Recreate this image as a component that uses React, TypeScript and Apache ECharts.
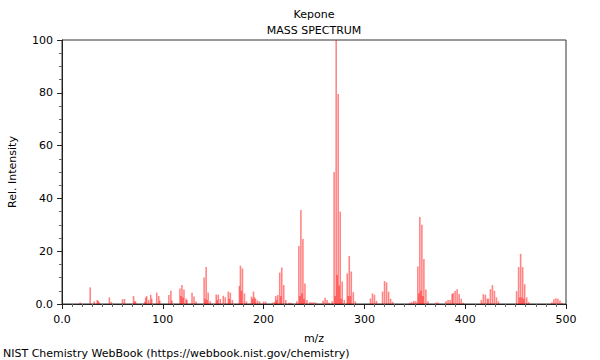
import React, { useEffect, useRef } from "react";
import * as echarts from "echarts";

const title = "Kepone";
const subtitle = "MASS SPECTRUM";
const xName = "m/z";
const yName = "Rel. Intensity";
const footer = "NIST Chemistry WebBook (https://webbook.nist.gov/chemistry)";

const xTicks = [0, 100, 200, 300, 400, 500];
const yTicks = [0, 20, 40, 60, 80, 100];

// low-mass peaks (m/z, rel. intensity)
const lowMz = [18, 28, 32, 35, 36, 37, 47, 49, 60, 62, 71, 72, 73, 82, 83, 84, 86, 88, 89, 94, 96, 97, 106, 108, 109, 117, 118, 119, 120, 121, 123, 124, 129, 131, 133];
const lowInt = [0.6, 6.3, 1, 1.5, 1.2, 0.6, 2.5, 0.8, 1.8, 1.9, 3, 1, 1, 0.8, 2.5, 3, 1.5, 3.5, 2, 4.3, 3, 1.3, 3.4, 5, 1.3, 5.9, 3, 7.2, 2.5, 5.5, 2.1, 1.5, 4.3, 2.8, 0.9];

// mid-mass peaks
const midMz = [141, 142, 143, 144, 145, 147, 153, 154, 155, 157, 160, 162, 165, 166, 167, 169, 176, 177, 178, 179, 181, 183, 188, 189, 190, 191, 192, 194, 196, 200, 202, 209, 211, 212, 213, 214, 216, 217, 218, 220, 222, 225, 227, 233, 235, 236, 237, 238, 239, 240, 241, 243, 246, 248, 250, 252, 259, 261, 263, 265, 268];
const midInt = [10, 2, 14, 1.5, 4.4, 1, 3.6, 1.5, 3.5, 1.9, 3.1, 2.5, 4.7, 2, 4.3, 1.5, 6.8, 14.5, 5, 13.5, 4, 1, 2.8, 2, 4.7, 2.5, 2, 1.3, 1, 0.9, 0.9, 0.5, 0.8, 3, 1.5, 3.4, 11.9, 3, 13.8, 7.2, 1.5, 0.5, 0.5, 1, 22, 3, 35.6, 4, 24.6, 2, 7.8, 1.5, 0.7, 0.7, 0.7, 0.5, 1.2, 2.4, 1.5, 0.5, 1];

// high-mass peaks
const highMz = [270, 271, 272, 273, 274, 275, 276, 277, 278, 280, 283, 284, 285, 286, 287, 289, 291, 306, 308, 310, 312, 318, 320, 322, 324, 326, 328, 345, 347, 349, 351, 353, 354, 355, 356, 357, 358, 359, 361, 363, 371, 373, 381, 383, 385, 387, 388, 390, 392, 394, 396, 398, 416, 418, 420, 422, 423, 425, 427, 429, 431, 433, 451, 453, 454, 455, 456, 457, 458, 459, 461, 463, 486, 488, 490, 492, 494, 496];
const highInt = [50, 3, 100, 11, 79.5, 7, 35, 2, 8.5, 1.5, 11.6, 3, 18.2, 3, 12.3, 4.5, 1, 2.1, 4, 3.5, 1.2, 4.7, 8.7, 8.2, 4.7, 2, 0.8, 0.5, 0.7, 1.2, 1, 14.2, 4, 33, 5, 30, 3, 17, 5.5, 1, 0.6, 0.6, 1, 1.5, 1.5, 3.8, 4.2, 4.9, 5.6, 3.8, 2, 0.5, 1.5, 3.7, 3.5, 2, 2, 5.6, 7.2, 5, 2.5, 1, 4.9, 14, 2.5, 19, 2.5, 14, 2, 7.5, 2.5, 0.7, 0.7, 1.8, 2.2, 2, 1.3, 0.5];

const FONT = "DejaVu Sans";

export default function App() {
  const ref = useRef<HTMLDivElement>(null);
  useEffect(() => {
    if (!ref.current) return;
    const chart = echarts.init(ref.current, undefined, { renderer: "svg" });
    const mz = [...lowMz, ...midMz, ...highMz];
    const inten = [...lowInt, ...midInt, ...highInt];
    const data = mz.map((m, i) => [m, inten[i]]);
    const fmt = (v: number) => (v === 0 ? "0.0" : String(v));
    chart.setOption({
      animation: false,
      backgroundColor: "#fff",
      textStyle: { fontFamily: FONT },
      grid: {
        left: 62,
        right: 34,
        top: 40,
        bottom: 56,
        containLabel: false,
        outerBoundsMode: "none",
        show: true,
        borderColor: "#333",
        borderWidth: 1,
      },
      xAxis: {
        type: "value",
        min: 0,
        max: 500,
        interval: 100,
        name: xName,
        nameLocation: "middle",
        nameGap: 29,
        nameTextStyle: { fontFamily: FONT, fontSize: 11, color: "#000" },
        axisLine: { onZero: false, lineStyle: { color: "#222", width: 1 } },
        axisTick: { show: true, length: 5, lineStyle: { color: "#222" } },
        minorTick: { show: true, splitNumber: 10, length: 3, lineStyle: { color: "#666" } },
        splitLine: { show: false },
        axisLabel: {
          formatter: fmt,
          fontFamily: FONT,
          fontSize: 11,
          color: "#000",
          margin: 10,
          alignMinLabel: "center",
          alignMaxLabel: "center",
          customValues: xTicks,
        },
      },
      yAxis: {
        type: "value",
        min: 0,
        max: 100,
        interval: 20,
        name: yName,
        nameLocation: "middle",
        nameGap: 44,
        nameTextStyle: { fontFamily: FONT, fontSize: 11, color: "#000" },
        axisLine: { show: true, lineStyle: { color: "#222", width: 1 } },
        axisTick: { show: true, length: 5, lineStyle: { color: "#222" } },
        minorTick: { show: true, splitNumber: 4, length: 3, lineStyle: { color: "#666" } },
        splitLine: { show: false },
        axisLabel: {
          formatter: fmt,
          fontFamily: FONT,
          fontSize: 11,
          color: "#000",
          margin: 9,
          customValues: yTicks,
        },
      },
      series: [
        {
          type: "bar",
          data,
          barWidth: 1.6,
          itemStyle: { color: "rgba(255,0,0,0.48)" },
          emphasis: { disabled: true },
        },
      ],
      graphic: [
        {
          type: "text",
          x: 314,
          y: 14,
          style: { text: title, fontFamily: FONT, fontSize: 11, fill: "#000", textAlign: "center", textVerticalAlign: "middle" },
        },
        {
          type: "text",
          x: 314,
          y: 30,
          style: { text: subtitle, fontFamily: FONT, fontSize: 11, fill: "#000", textAlign: "center", textVerticalAlign: "middle" },
        },
        {
          type: "text",
          x: 3,
          y: 353,
          style: { text: footer, fontFamily: FONT, fontSize: 11, fill: "#000", textAlign: "left", textVerticalAlign: "middle" },
        },
      ],
    });
    return () => chart.dispose();
  }, []);
  return <div ref={ref} style={{ width: 600, height: 360, position: "absolute", left: 0, top: 0 }} />;
}
